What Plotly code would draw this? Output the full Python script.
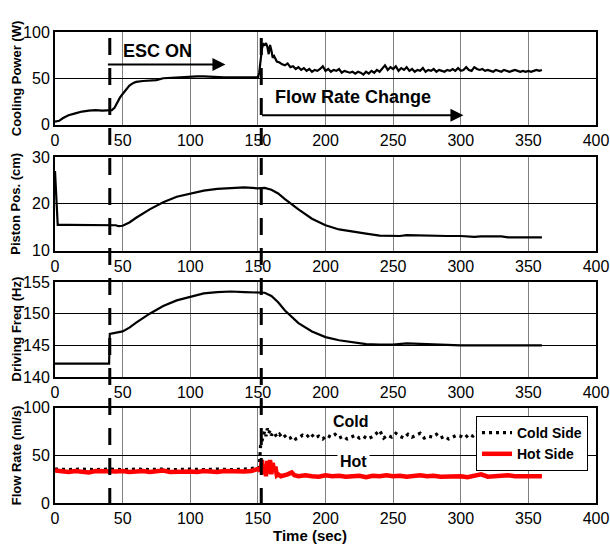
import plotly.graph_objects as go
from plotly.subplots import make_subplots

# ---------------- data ----------------
cp_t = [0, 3, 6, 10, 15, 20, 25, 30, 35, 40, 42, 44, 46, 48, 50, 52, 55, 58, 60, 65, 70, 75, 80, 85, 90, 95,
        100, 105, 110, 115, 120, 125, 130, 135, 140, 145, 150,
        151, 152, 153, 154, 155, 156, 157, 158, 159, 160, 161, 162, 163, 164, 166, 168, 170, 172, 174, 176, 178,
        180, 182, 184, 186, 188, 190, 192, 194, 196, 198, 200, 202, 204, 206, 208, 210, 212, 214, 216, 218,
        220, 222, 224, 226, 228, 230, 232, 234, 236, 238, 240, 242, 244, 246, 248, 250, 252, 254, 256, 258,
        260, 262, 264, 266, 268, 270, 272, 274, 276, 278, 280, 282, 284, 286, 288, 290, 292, 294, 296, 298,
        300, 302, 304, 306, 308, 310, 312, 314, 316, 318, 320, 322, 324, 326, 328, 330, 332, 334, 336, 338,
        340, 342, 344, 346, 348, 350, 352, 354, 356, 358, 360]
cp_v = [3, 4, 7, 10, 12, 14, 15, 15.5, 15, 15, 15.5, 18, 24, 29, 33, 37, 42, 45, 46, 47, 47.5, 48, 50, 50.5, 51, 51.5,
        52, 52, 52, 51.5, 51.5, 51, 51, 51, 51, 51, 51,
        56, 70, 82, 87, 86, 88, 84, 76, 86, 80, 72, 74, 70, 68, 67, 65, 64, 66, 62, 63, 60,
        62, 59, 61, 58, 60, 57, 59, 58, 60, 63, 58, 60, 57, 59, 58, 60, 56, 58, 57, 56,
        57, 55, 57, 56, 54, 57, 55, 58, 56, 59, 57, 60, 64, 59, 62, 60, 63, 58, 61, 59,
        62, 58, 60, 57, 59, 58, 61, 57, 59, 58, 60, 57, 59, 58, 57, 59, 58, 60, 58, 61,
        58, 59, 62, 59, 58, 62, 60, 59, 60, 58, 59, 58, 57, 59, 58, 57, 59, 58, 57, 58,
        59, 58, 57, 58, 57, 58, 57, 58, 59, 58, 59]

pp_t = [0, 1, 2, 10, 20, 30, 40, 45, 47, 50, 55, 60, 70, 80, 90, 100, 110, 120, 130, 140, 150, 155, 160, 165,
        170, 180, 190, 200, 210, 220, 230, 240, 250, 255, 260, 270, 280, 290, 300, 305, 310, 315, 320, 330,
        335, 340, 350, 360]
pp_v = [27, 20, 15.5, 15.5, 15.5, 15.5, 15.5, 15.4, 15.2, 15.3, 16, 17, 18.8, 20.3, 21.5, 22.2, 22.8, 23.2, 23.3,
        23.5, 23.3, 23.4, 23.0, 22.2, 21, 18.8, 16.8, 15.4, 14.5, 14.0, 13.6, 13.2, 13.1, 13.1, 13.3, 13.2,
        13.1, 13.1, 13.1, 13.0, 12.9, 13.0, 13.0, 13.0, 12.8, 12.8, 12.8, 12.8]

df_t = [0, 10, 20, 30, 40, 40.5, 45, 50, 55, 60, 70, 80, 90, 100, 110, 120, 130, 140, 150, 155, 160, 165, 170,
        180, 190, 200, 210, 220, 230, 240, 250, 260, 270, 280, 290, 300, 330, 360]
df_v = [142.1, 142.1, 142.1, 142.1, 142.1, 146.8, 147.0, 147.2, 147.8, 148.6, 150.0, 151.2, 152.1, 152.7, 153.2,
        153.4, 153.5, 153.4, 153.3, 153.3, 152.8, 151.8, 150.5, 148.5, 147.2, 146.3, 145.8, 145.5, 145.2,
        145.1, 145.1, 145.3, 145.2, 145.1, 145.0, 145.0, 145.0, 145.0]

hot_t = [0, 5, 10, 15, 20, 25, 30, 35, 40, 45, 50, 55, 60, 65, 70, 75, 80, 85, 90, 95, 100, 105, 110, 115,
         120, 125, 130, 135, 140, 145, 150, 151, 152, 153, 154, 155, 156, 157, 158, 159, 160, 161, 162, 163,
         164, 165, 167, 170, 172, 175, 177, 180, 185, 190, 195, 200, 205, 210, 215, 220, 225, 230, 235, 240,
         245, 250, 255, 260, 265, 270, 275, 280, 285, 290, 295, 300, 305, 310, 315, 320, 325, 330, 335, 340,
         345, 350, 355, 360]
hot_v = [34, 33, 32.5, 33.5, 33, 32, 33.5, 33, 32.5, 33, 33.5, 32.5, 33, 33.5, 32.5, 33, 34, 32.5, 33, 33.5,
         33, 32.5, 33.5, 33, 32.5, 33.5, 33, 32.5, 33, 33.5, 35, 36, 33, 45, 30, 40, 28, 44, 31, 45, 30, 42,
         33, 38, 29, 30, 28, 29, 30, 32, 29, 28, 29, 28, 27.5, 29, 28, 28.5, 27.5, 28, 28.5, 27, 28.5, 28,
         29, 28, 28.5, 27.5, 28, 29, 28, 28.5, 27.5, 28, 28.5, 28, 27, 28.5, 30, 27.5, 28, 28.5, 29, 28,
         28, 28.5, 28, 28]

cold_t = [0, 10, 20, 30, 40, 50, 60, 70, 80, 90, 100, 110, 120, 130, 140, 148, 150, 151, 152, 153, 154, 155,
          156, 157, 158, 159, 160, 162, 164, 166, 168, 170, 172, 174, 176, 178, 180, 183, 186, 189, 192, 195,
          198, 201, 204, 207, 210, 213, 216, 219, 222, 225, 228, 231, 234, 237, 240, 243, 246, 249, 252, 255,
          258, 261, 264, 267, 270, 273, 276, 279, 282, 285, 288, 291, 294, 297, 300, 303, 306, 309, 312, 315,
          318, 321, 324, 327, 330, 335, 340, 345, 350, 355, 360]
cold_v = [35.5, 35, 35.5, 35, 35.5, 35, 35.5, 35, 35.5, 35, 35.5, 35, 35.5, 35, 35.5, 36, 36.5, 37, 60, 65,
          72, 75, 70, 78, 73, 76, 71, 74, 69, 72, 68, 70, 67, 68, 70, 67, 68, 71, 69, 73, 68, 70, 67, 71, 69,
          72, 68, 70, 67, 69, 71, 68, 70, 67, 69, 72, 76, 68, 71, 69, 73, 70, 68, 72, 69, 71, 73, 68, 70, 69,
          72, 68, 70, 67, 69, 71, 70, 68, 72, 70, 74, 69, 71, 70, 72, 69, 70, 71, 70, 69, 71, 70, 70]

x_ticks = [0, 50, 100, 150, 200, 250, 300, 350, 400]
y_ranges = [[0, 100], [10, 30], [140, 155], [0, 100]]
y_ticks = [[0, 50, 100], [10, 20, 30], [140, 145, 150, 155], [0, 50, 100]]
y_titles = ["Cooling Power (W)", "Piston Pos. (cm)", "Driving Freq (Hz)", "Flow Rate (ml/s)"]
event_times = [40.5, 152.5]

# ---------------- figure ----------------
FONT = "Liberation Sans, Arial, Helvetica, sans-serif"
W, H = 610, 548
ml, mr, mt, mb = 55, 14, 32, 45
ph = H - mt - mb
pw = W - ml - mr

def py(px):
    return (H - mb - px) / ph

def pxx(px):
    return (px - ml) / pw

panels_px = [(32, 124.5), (157, 250.5), (282, 377), (407.5, 503)]
domains = [[py(b), py(t)] for (t, b) in panels_px]

fig = make_subplots(rows=4, cols=1)

line_k = dict(color="black", width=2.2)
fig.add_trace(go.Scatter(x=cp_t, y=cp_v, mode="lines", line=line_k, showlegend=False), row=1, col=1)
fig.add_trace(go.Scatter(x=pp_t, y=pp_v, mode="lines", line=line_k, showlegend=False), row=2, col=1)
fig.add_trace(go.Scatter(x=df_t, y=df_v, mode="lines", line=line_k, showlegend=False), row=3, col=1)
fig.add_trace(go.Scatter(x=cold_t, y=cold_v, mode="lines", name="<b>Cold Side</b>",
                         line=dict(color="black", width=3.2, dash="3px,4px")), row=4, col=1)
fig.add_trace(go.Scatter(x=hot_t, y=hot_v, mode="lines", name="<b>Hot Side</b>",
                         line=dict(color="#ff0000", width=4.5)), row=4, col=1)

for i in range(4):
    xa = "xaxis" if i == 0 else f"xaxis{i+1}"
    ya = "yaxis" if i == 0 else f"yaxis{i+1}"
    fig.layout[xa].update(range=[0, 400], domain=[0, 1], tickvals=x_ticks, ticks="",
                          showgrid=True, gridcolor="#808080", gridwidth=1, automargin=False,
                          showline=True, mirror=True, linecolor="black", linewidth=2,
                          zeroline=False, tickfont=dict(family=FONT, size=16, color="black"))
    fig.layout[ya].update(range=y_ranges[i], domain=domains[i], tickvals=y_ticks[i], ticks="",
                          showgrid=True, gridcolor="black", gridwidth=1, automargin=False,
                          showline=True, mirror=True, linecolor="black", linewidth=2,
                          zeroline=False, tickfont=dict(family=FONT, size=16, color="black"))

annotations = []
for i, t in enumerate(y_titles):
    annotations.append(dict(text=f"<b>{t}</b>", xref="paper", yref="paper",
                            x=pxx(16), y=sum(domains[i]) / 2,
                            xanchor="center", yanchor="middle", textangle=-90, showarrow=False,
                            font=dict(family=FONT, size=13, color="black")))
annotations.append(dict(text="<b>Time (sec)</b>", xref="paper", yref="paper",
                        x=pxx(310), y=py(535), xanchor="center", yanchor="middle",
                        showarrow=False, font=dict(family=FONT, size=15, color="black")))
# text labels
annotations.append(dict(text="<b>ESC ON</b>", xref="x", yref="y", x=76, y=80, showarrow=False,
                        font=dict(family=FONT, size=18, color="black")))
annotations.append(dict(text="<b>Flow Rate Change</b>", xref="x", yref="y", x=220, y=30, showarrow=False,
                        font=dict(family=FONT, size=18, color="black")))
# arrows
annotations.append(dict(x=126, y=65, ax=38, ay=65, xref="x", yref="y", axref="x", ayref="y", text="",
                        showarrow=True, arrowhead=2, arrowsize=1.3, arrowwidth=2, arrowcolor="black"))
annotations.append(dict(x=302, y=10, ax=152, ay=10, xref="x", yref="y", axref="x", ayref="y", text="",
                        showarrow=True, arrowhead=2, arrowsize=1.3, arrowwidth=2, arrowcolor="black"))
annotations.append(dict(text="<b>Cold</b>", xref="x4", yref="y4", x=219, y=85, showarrow=False,
                        bgcolor="white", font=dict(family=FONT, size=16, color="black")))
annotations.append(dict(text="<b>Hot</b>", xref="x4", yref="y4", x=221, y=43, showarrow=False,
                        bgcolor="white", borderpad=2, font=dict(family=FONT, size=16, color="black")))

shapes = []
for et in event_times:
    shapes.append(dict(type="line", xref="x", yref="paper", x0=et, x1=et, y0=py(505), y1=py(36),
                       line=dict(color="black", width=3, dash="17px,13px"), layer="above"))

fig.update_layout(width=W, height=H, margin=dict(l=ml, r=mr, t=mt, b=mb, autoexpand=False),
                  plot_bgcolor="white", paper_bgcolor="white",
                  annotations=annotations, shapes=shapes,
                  legend=dict(x=pxx(588), y=py(416), xanchor="right", yanchor="top",
                              bgcolor="white", bordercolor="black", borderwidth=1,
                              font=dict(family=FONT, size=14, color="black"),
                              tracegroupgap=0, itemwidth=30))

fig.write_html("out.html", config={"displayModeBar": False},
               post_script="document.body.style.margin='0px';document.body.style.padding='0px';")
